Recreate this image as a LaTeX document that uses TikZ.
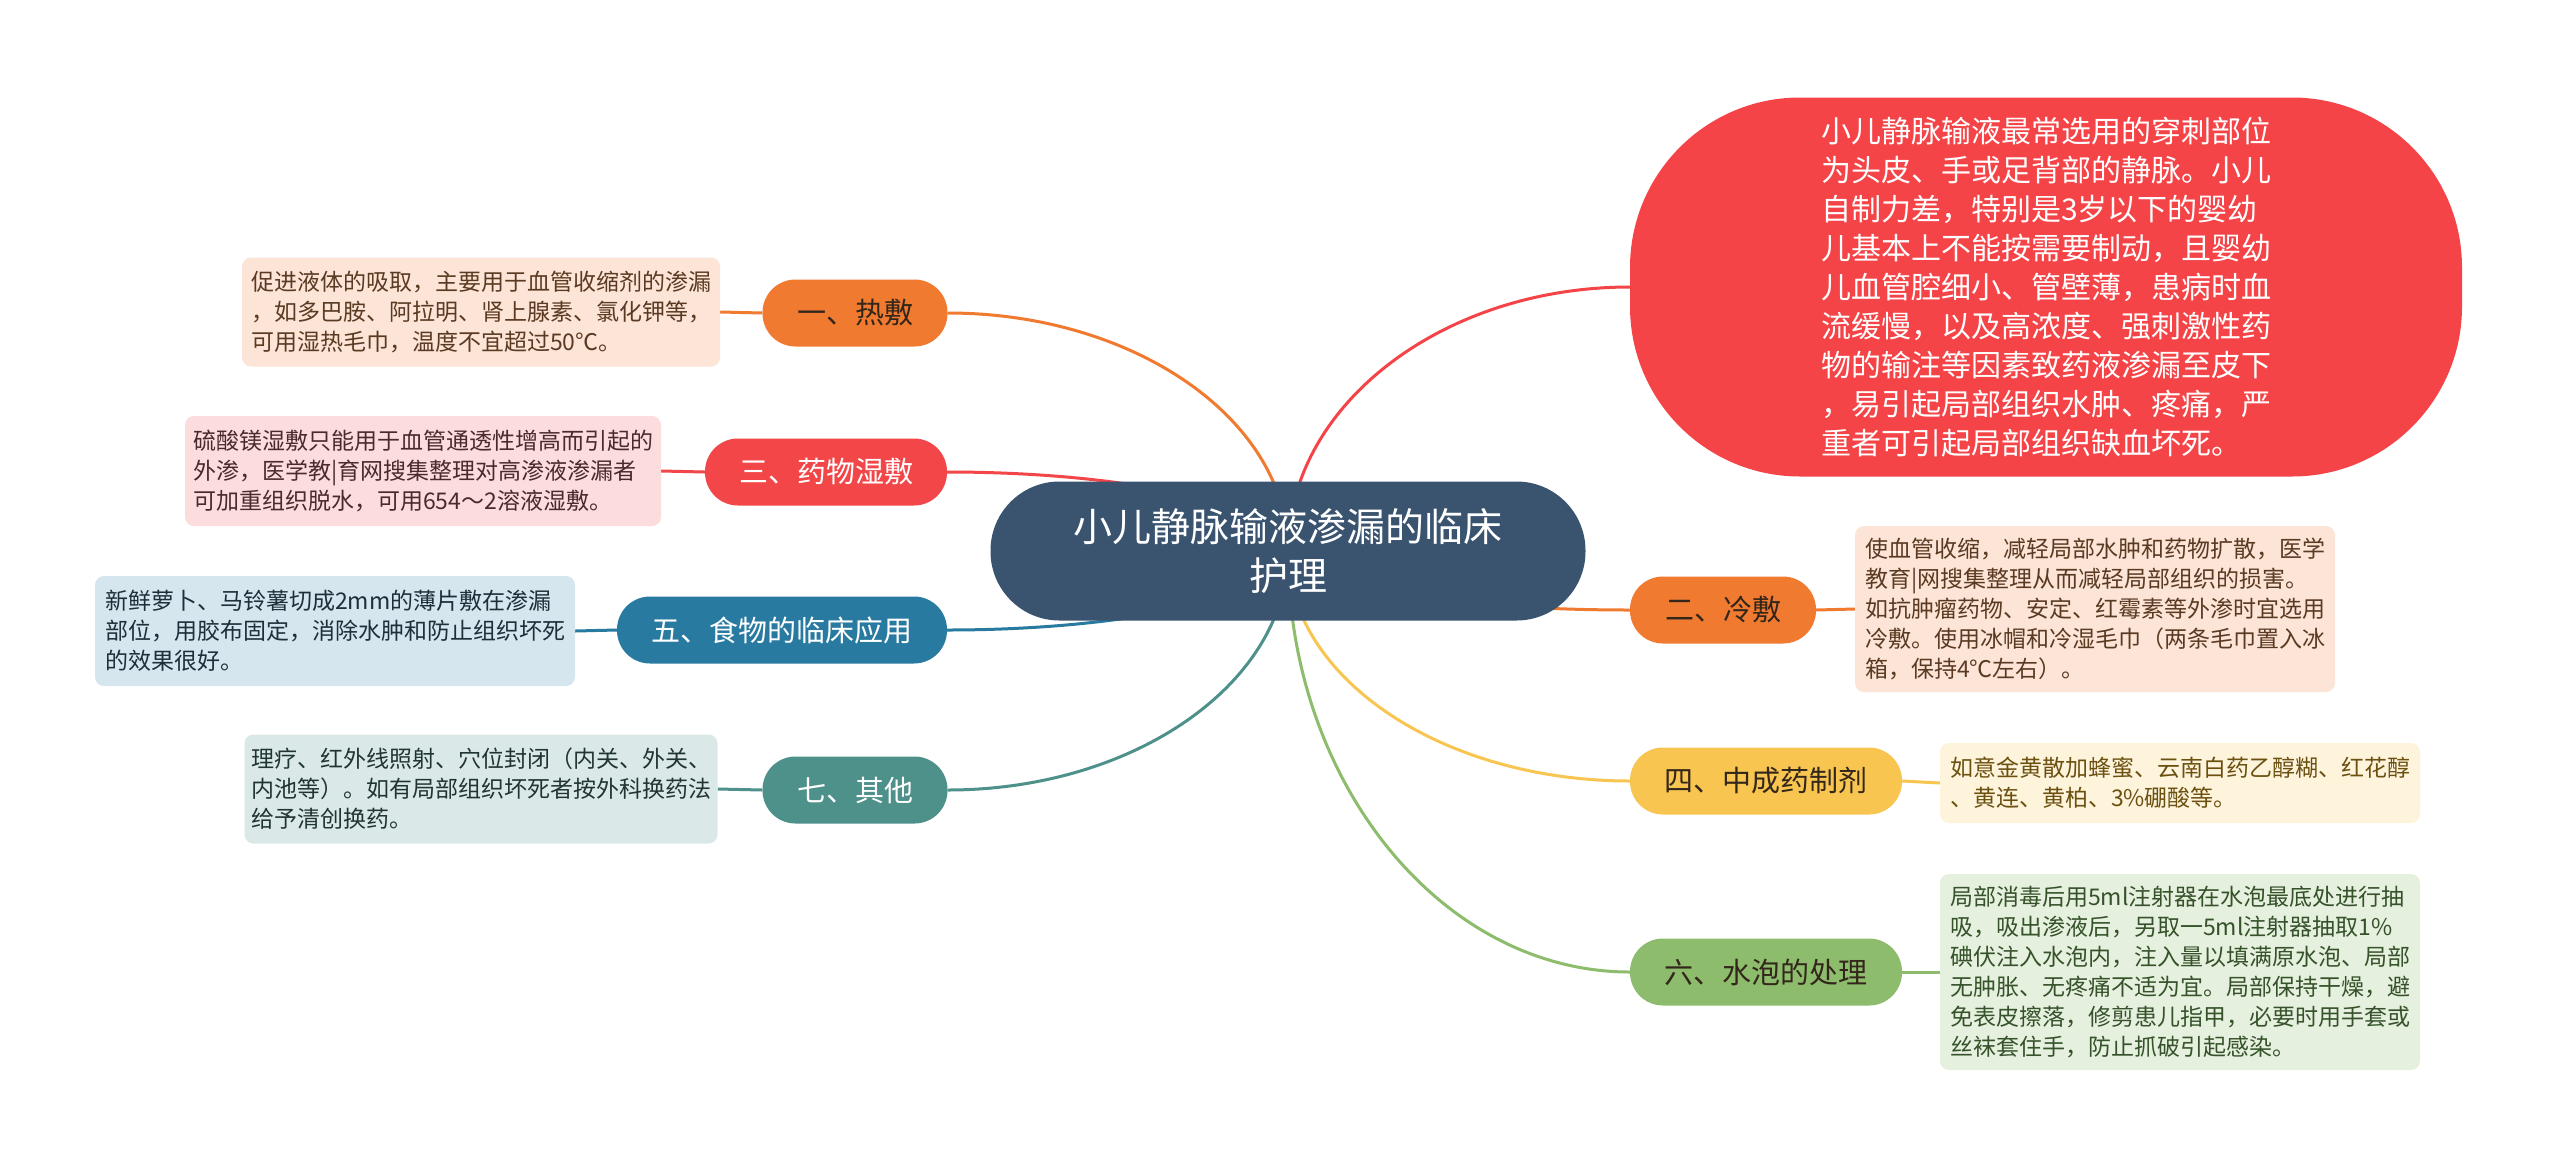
\documentclass[tikz,border=0pt]{standalone}
\usepackage{fontspec}
\usetikzlibrary{calc}
\newfontfamily\cjk{Noto Sans CJK SC}
\definecolor{rootc}{HTML}{3A5470}
\definecolor{redbig}{HTML}{F54447}
\definecolor{orc}{HTML}{F07A30}
\definecolor{rdc}{HTML}{F24648}
\definecolor{blc}{HTML}{287AA0}
\definecolor{tlc}{HTML}{4E908A}
\definecolor{ylc}{HTML}{F8C650}
\definecolor{grc}{HTML}{8DBC6D}
\definecolor{peach}{HTML}{FCE4D6}
\definecolor{pink}{HTML}{FCDCDC}
\definecolor{lblue}{HTML}{D6E6EE}
\definecolor{lteal}{HTML}{DAE8E8}
\definecolor{lyel}{HTML}{FEF4DC}
\definecolor{lgrn}{HTML}{E6F0DE}
\definecolor{darktxt}{HTML}{33261A}
\definecolor{browntxt}{HTML}{5A3A22}
\definecolor{pinktxt}{HTML}{4A2A2A}
\definecolor{bluetxt}{HTML}{1E2E3A}
\definecolor{tealtxt}{HTML}{213434}
\definecolor{yeltxt}{HTML}{6B5010}
\definecolor{grntxt}{HTML}{35522A}
\pgfdeclarelayer{bg}
\pgfsetlayers{bg,main}
\newcommand{\rootlink}[3]{% color, target node, anchor
  \draw[link, #1] (root.center) .. controls ($(root.center)!0.55!(root.center |- #2.#3)$)
    and ($(#2.#3)!0.55!(root.center |- #2.#3)$) .. (#2.#3);}
\begin{document}
\begin{tikzpicture}[x=1pt,y=-1pt,
  topicbox/.style={rounded corners=33pt, minimum height=67pt, inner sep=0pt,
    font=\cjk\fontsize{29}{36}\selectfont},
  detailbox/.style={rounded corners=9pt, align=left, inner sep=0pt,
    font=\cjk\fontsize{23}{30}\selectfont},
  link/.style={line width=3pt}]
\useasboundingbox (0,0) rectangle (2560,1168);

% root
\node[fill=rootc, text=white, rounded corners=69pt, minimum width=595pt, minimum height=139pt,
  align=center, inner sep=0pt, font=\cjk\fontsize{39}{49}\selectfont] (root) at (1288,551)
  {小儿静脉输液渗漏的临床\\护理};

% big red node
\node[fill=redbig, text=white, rounded corners=170pt, minimum width=832pt, minimum height=379pt,
  align=left, inner sep=0pt, font=\cjk\fontsize{30}{39}\selectfont] (big) at (2046,287)
  {小儿静脉输液最常选用的穿刺部位\\为头皮、手或足背部的静脉。小儿\\自制力差，特别是3岁以下的婴幼\\儿基本上不能按需要制动，且婴幼\\儿血管腔细小、管壁薄，患病时血\\流缓慢，以及高浓度、强刺激性药\\物的输注等因素致药液渗漏至皮下\\，易引起局部组织水肿、疼痛，严\\重者可引起局部组织缺血坏死。};

% topics
\node[topicbox, fill=orc, text=darktxt, minimum width=185pt] (t1) at (855,313) {一、热敷};
\node[topicbox, fill=rdc, text=white, minimum width=242pt] (t3) at (826,472) {三、药物湿敷};
\node[topicbox, fill=blc, text=white, minimum width=330pt] (t5) at (782,630) {五、食物的临床应用};
\node[topicbox, fill=tlc, text=white, minimum width=185pt] (t7) at (855,790) {七、其他};
\node[topicbox, fill=orc, text=darktxt, minimum width=186pt] (t2) at (1723,610) {二、冷敷};
\node[topicbox, fill=ylc, text=darktxt, minimum width=272pt] (t4) at (1766,781) {四、中成药制剂};
\node[topicbox, fill=grc, text=darktxt, minimum width=272pt] (t6) at (1766,972) {六、水泡的处理};

% details
\node[detailbox, fill=peach, text=browntxt, minimum width=478pt, minimum height=109pt] (d1) at (481,312)
  {促进液体的吸取，主要用于血管收缩剂的渗漏\\，如多巴胺、阿拉明、肾上腺素、氯化钾等，\\可用湿热毛巾，温度不宜超过50℃。};
\node[detailbox, fill=pink, text=pinktxt, minimum width=476pt, minimum height=110pt] (d3) at (423,471)
  {硫酸镁湿敷只能用于血管通透性增高而引起的\\外渗，医学教|育网搜集整理对高渗液渗漏者\\可加重组织脱水，可用654～2溶液湿敷。};
\node[detailbox, fill=lblue, text=bluetxt, minimum width=480pt, minimum height=110pt] (d5) at (335,631)
  {新鲜萝卜、马铃薯切成2mm的薄片敷在渗漏\\部位，用胶布固定，消除水肿和防止组织坏死\\的效果很好。};
\node[detailbox, fill=lteal, text=tealtxt, minimum width=473pt, minimum height=109pt] (d7) at (481,789)
  {理疗、红外线照射、穴位封闭（内关、外关、\\内池等）。如有局部组织坏死者按外科换药法\\给予清创换药。};
\node[detailbox, fill=peach, text=browntxt, minimum width=480pt, minimum height=166pt] (d2) at (2095,609)
  {使血管收缩，减轻局部水肿和药物扩散，医学\\教育|网搜集整理从而减轻局部组织的损害。\\如抗肿瘤药物、安定、红霉素等外渗时宜选用\\冷敷。使用冰帽和冷湿毛巾（两条毛巾置入冰\\箱，保持4℃左右）。};
\node[detailbox, fill=lyel, text=yeltxt, minimum width=480pt, minimum height=80pt] (d4) at (2180,783)
  {如意金黄散加蜂蜜、云南白药乙醇糊、红花醇\\、黄连、黄柏、3\%硼酸等。};
\node[detailbox, fill=lgrn, text=grntxt, minimum width=480pt, minimum height=196pt] (d6) at (2180,972)
  {局部消毒后用5ml注射器在水泡最底处进行抽\\吸，吸出渗液后，另取一5ml注射器抽取1\%\\碘伏注入水泡内，注入量以填满原水泡、局部\\无肿胀、无疼痛不适为宜。局部保持干燥，避\\免表皮擦落，修剪患儿指甲，必要时用手套或\\丝袜套住手，防止抓破引起感染。};

\begin{pgfonlayer}{bg}
\fill[white] (0,0) rectangle (2560,1168);
\rootlink{redbig}{big}{west}
\rootlink{orc}{t1}{east}
\rootlink{rdc}{t3}{east}
\rootlink{blc}{t5}{east}
\rootlink{tlc}{t7}{east}
\rootlink{orc}{t2}{west}
\rootlink{ylc}{t4}{west}
\rootlink{grc}{t6}{west}
\draw[link, orc] (t1.west) -- (d1.east);
\draw[link, rdc] (t3.west) -- (d3.east);
\draw[link, blc] (t5.west) -- (d5.east);
\draw[link, tlc] (t7.west) -- (d7.east);
\draw[link, orc] (t2.east) -- (d2.west);
\draw[link, ylc] (t4.east) -- (d4.west);
\draw[link, grc] (t6.east) -- (d6.west);
\end{pgfonlayer}
\end{tikzpicture}
\end{document}
